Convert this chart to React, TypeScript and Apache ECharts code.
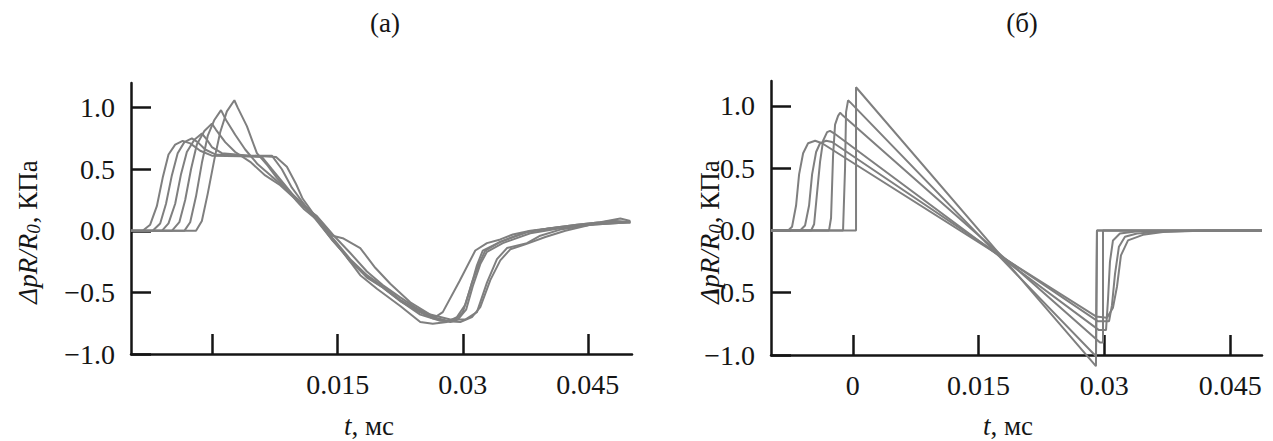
import React, { useEffect, useRef } from 'react';
import * as echarts from 'echarts';

type Pt = [number, number];

// ---------- panel (а): measured pulses ----------
const panelA1: Pt[] = [[-0.0098,0],[-0.0084,0],[-0.0075,0.05],[-0.0067,0.2],[-0.006,0.43],[-0.0053,0.62],[-0.0045,0.7],[-0.0036,0.73],[-0.0027,0.71],[-0.0015,0.65],[-0.0001,0.61],[0.0033,0.605],[0.0059,0.6],[0.0071,0.5],[0.0088,0.36],[0.0105,0.22],[0.0125,0.12],[0.0144,-0.03],[0.0165,-0.18],[0.0185,-0.33],[0.0204,-0.44],[0.0225,-0.54],[0.0245,-0.63],[0.0267,-0.7],[0.0276,-0.66],[0.0296,-0.41],[0.0315,-0.16],[0.0329,-0.1],[0.0345,-0.07],[0.036,-0.03],[0.0381,0],[0.0405,0.02],[0.0437,0.05],[0.0465,0.07],[0.0483,0.08],[0.0501,0.07]];
const panelA2: Pt[] = [[-0.0098,0],[-0.0072,0],[-0.0063,0.06],[-0.0056,0.22],[-0.0049,0.45],[-0.0042,0.63],[-0.0034,0.72],[-0.0025,0.75],[-0.0018,0.72],[-0.0009,0.66],[0.0003,0.62],[0.0039,0.61],[0.0071,0.61],[0.0083,0.5],[0.0095,0.35],[0.0107,0.24],[0.0125,0.08],[0.0144,-0.08],[0.0156,-0.17],[0.0177,-0.36],[0.0197,-0.47],[0.0225,-0.61],[0.0249,-0.74],[0.0264,-0.755],[0.0281,-0.74],[0.0293,-0.7],[0.0303,-0.6],[0.0311,-0.42],[0.032,-0.26],[0.0327,-0.16],[0.0345,-0.09],[0.036,-0.05],[0.0377,-0.01],[0.0405,0.02],[0.0437,0.05],[0.0465,0.07],[0.0489,0.1],[0.0501,0.08]];
const panelA3: Pt[] = [[-0.0098,0],[-0.0061,0],[-0.0053,0.06],[-0.0045,0.22],[-0.0038,0.46],[-0.0031,0.64],[-0.0022,0.74],[-0.0013,0.79],[-0.0007,0.74],[-0.0001,0.68],[0.0011,0.63],[0.0045,0.61],[0.0076,0.6],[0.0089,0.52],[0.01,0.38],[0.0108,0.26],[0.0125,0.1],[0.0144,-0.06],[0.0165,-0.23],[0.0185,-0.36],[0.0204,-0.45],[0.0225,-0.56],[0.0245,-0.64],[0.0264,-0.7],[0.0281,-0.73],[0.0291,-0.72],[0.03,-0.66],[0.0309,-0.47],[0.0317,-0.28],[0.0324,-0.16],[0.0345,-0.09],[0.0377,-0.01],[0.0405,0.02],[0.0437,0.04],[0.0465,0.06],[0.0501,0.07]];
const panelA4: Pt[] = [[-0.0098,0],[-0.0049,0],[-0.004,0.07],[-0.0033,0.25],[-0.0026,0.5],[-0.0019,0.7],[-0.001,0.81],[-0.0001,0.87],[0.0004,0.82],[0.0015,0.72],[0.0027,0.64],[0.0045,0.56],[0.0063,0.45],[0.0081,0.37],[0.0102,0.24],[0.0125,0.1],[0.0144,-0.07],[0.0165,-0.25],[0.0185,-0.37],[0.0204,-0.46],[0.0225,-0.57],[0.0245,-0.65],[0.0264,-0.71],[0.0285,-0.74],[0.0294,-0.72],[0.0304,-0.64],[0.0312,-0.45],[0.0321,-0.27],[0.0329,-0.17],[0.0348,-0.1],[0.0381,-0.02],[0.0417,0.02],[0.0453,0.05],[0.0501,0.07]];
const panelA5: Pt[] = [[-0.0098,0],[-0.0034,0],[-0.0027,0.07],[-0.002,0.28],[-0.0013,0.55],[-0.0006,0.77],[0.0002,0.9],[0.001,0.98],[0.0016,0.9],[0.0027,0.78],[0.0039,0.66],[0.0054,0.54],[0.0071,0.44],[0.009,0.33],[0.0105,0.24],[0.0125,0.11],[0.0144,-0.04],[0.0156,-0.06],[0.0177,-0.14],[0.0195,-0.3],[0.0213,-0.43],[0.0237,-0.58],[0.0261,-0.68],[0.0285,-0.72],[0.0303,-0.72],[0.0317,-0.66],[0.0329,-0.42],[0.0341,-0.23],[0.0353,-0.14],[0.0377,-0.1],[0.0393,-0.04],[0.0417,0.01],[0.0453,0.05],[0.0501,0.07]];
const panelA6: Pt[] = [[-0.0098,0],[-0.002,0],[-0.0013,0.08],[-0.0006,0.3],[0.0002,0.58],[0.0009,0.8],[0.0017,0.97],[0.0026,1.06],[0.003,1.0],[0.0041,0.85],[0.0053,0.63],[0.0066,0.53],[0.0077,0.43],[0.009,0.33],[0.0101,0.24],[0.0109,0.18],[0.0125,0.09],[0.0144,-0.08],[0.0165,-0.24],[0.0185,-0.38],[0.0204,-0.46],[0.0225,-0.57],[0.0249,-0.68],[0.0273,-0.73],[0.0297,-0.74],[0.0311,-0.7],[0.0321,-0.62],[0.0333,-0.4],[0.0345,-0.24],[0.0357,-0.15],[0.0375,-0.11],[0.0399,-0.05],[0.0423,0],[0.0453,0.05],[0.0477,0.08],[0.0501,0.07]];

// ---------- panel (б): computed pulses ----------
const panelB1: Pt[] = [[-0.00975,0],[-0.00771,0],[-0.00724,0.03],[-0.00676,0.2],[-0.0064,0.45],[-0.00592,0.62],[-0.00533,0.7],[-0.00449,0.72],[-0.00366,0.7],[0.029,-0.69],[0.03032,-0.7],[0.03103,-0.62],[0.03151,-0.45],[0.03198,-0.2],[0.03282,-0.08],[0.0346,-0.035],[0.03699,-0.012],[0.0414,-0.003],[0.04879,0]];
const panelB2: Pt[] = [[-0.00975,0],[-0.00628,0],[-0.00569,0.04],[-0.00521,0.2],[-0.00485,0.45],[-0.00437,0.63],[-0.0039,0.7],[-0.00318,0.72],[-0.00247,0.71],[0.02924,-0.73],[0.03056,-0.73],[0.03091,-0.6],[0.03127,-0.35],[0.03174,-0.13],[0.03246,-0.05],[0.03389,-0.025],[0.03699,-0.008],[0.04223,0],[0.04879,0]];
const panelB3: Pt[] = [[-0.00975,0],[-0.00497,0],[-0.00461,0.05],[-0.00426,0.3],[-0.0039,0.55],[-0.00354,0.72],[-0.00306,0.79],[-0.00271,0.8],[-0.00223,0.78],[0.02936,-0.8],[0.0302,-0.8],[0.03044,-0.55],[0.03067,-0.25],[0.03103,-0.08],[0.03186,-0.025],[0.03425,-0.005],[0.04879,0]];
const panelB4: Pt[] = [[-0.00975,0],[-0.00283,0],[-0.00259,0.1],[-0.00235,0.6],[-0.00211,0.85],[-0.00175,0.92],[-0.00151,0.945],[-0.00128,0.93],[0.02948,-0.9],[0.02984,-0.9],[0.02984,0],[0.04879,0]];
const panelB5: Pt[] = [[-0.00975,0],[-0.00116,0],[-0.00092,0.5],[-0.0008,0.95],[-0.00056,1.045],[-0.00032,1.03],[0.029,-1.01],[0.02912,0],[0.04879,0]];
const panelB6: Pt[] = [[-0.00975,0],[0.00039,0],[0.00039,1.15],[0.029,-1.09],[0.02912,0],[0.04879,0]];

const panelACurves = [panelA1, panelA2, panelA3, panelA4, panelA5, panelA6];
const panelBCurves = [panelB1, panelB2, panelB3, panelB4, panelB5, panelB6];

const yTicks = [-1, -0.5, 0, 0.5, 1];
const xTicks = [0, 0.015, 0.03, 0.045];
const xLabelsA = [0.015, 0.03, 0.045];
const xLabelsB = [0, 0.015, 0.03, 0.045];
const panelTitles = ['(а)', '(б)'];

const FONT = '"Liberation Serif", "Times New Roman", serif';
const INK = '#151515';
const CURVE = '#7f7f7f';

function makeX(grid: number, min: number, max: number, labels: number[]) {
  return {
    type: 'value', gridIndex: grid, min, max,
    axisLine: { onZero: false, lineStyle: { color: INK, width: 2.5 } },
    axisTick: { inside: true, length: 20, customValues: xTicks, lineStyle: { color: INK, width: 2.5 } },
    axisLabel: { customValues: labels, formatter: (v: number) => String(v), fontFamily: FONT, fontSize: 28, color: INK, margin: 16 },
    splitLine: { show: false },
  };
}
function makeY(grid: number) {
  return {
    type: 'value', gridIndex: grid, min: -1, max: 1.2,
    axisLine: { onZero: false, lineStyle: { color: INK, width: 2.5 } },
    axisTick: { inside: true, length: 20, customValues: yTicks, lineStyle: { color: INK, width: 2.5 } },
    axisLabel: { customValues: yTicks, formatter: (v: number) => (v < 0 ? '\u2212' : '') + Math.abs(v).toFixed(1), fontFamily: FONT, fontSize: 28, color: INK, margin: 16 },
    splitLine: { show: false },
  };
}

function yName(x: number) {
  return {
    type: 'text', x, y: 232, rotation: Math.PI / 2,
    style: {
      text: '{i|\u0394pR/R}{s|0}{n|, \u041a\u041f\u0430}',
      fill: INK, align: 'center', verticalAlign: 'middle',
      rich: {
        i: { fontFamily: FONT, fontSize: 27, fontStyle: 'italic', fill: INK, lineHeight: 30 },
        s: { fontFamily: FONT, fontSize: 19, fontStyle: 'italic', fill: INK, lineHeight: 30, padding: [10, 1, 0, 0] },
        n: { fontFamily: FONT, fontSize: 27, fill: INK, lineHeight: 30 },
      },
    },
  };
}
function xName(x: number) {
  return {
    type: 'text', x, y: 426,
    style: {
      text: '{i|t}{n|, \u043c\u0441}', fill: INK, align: 'center', verticalAlign: 'middle',
      rich: {
        i: { fontFamily: FONT, fontSize: 27, fontStyle: 'italic', fill: INK },
        n: { fontFamily: FONT, fontSize: 27, fill: INK },
      },
    },
  };
}

export default function App() {
  const ref = useRef<HTMLDivElement>(null);
  useEffect(() => {
    if (!ref.current) return;
    const chart = echarts.init(ref.current, undefined, { renderer: 'svg' });
    const series: any[] = [];
    panelACurves.forEach((c, i) => series.push({
      type: 'line', name: 'a' + i, xAxisIndex: 0, yAxisIndex: 0, data: c, showSymbol: false, symbol: 'none',
      lineStyle: { color: CURVE, width: 2 }, silent: true, clip: false,
    }));
    panelBCurves.forEach((c, i) => series.push({
      type: 'line', name: 'b' + i, xAxisIndex: 1, yAxisIndex: 1, data: c, showSymbol: false, symbol: 'none',
      lineStyle: { color: CURVE, width: 2 }, silent: true, clip: false,
    }));
    chart.setOption({
      animation: false,
      grid: [
        { left: 131, top: 83, width: 501, height: 271 },
        { left: 771, top: 81, width: 491, height: 274 },
      ],
      xAxis: [makeX(0, -0.0098, 0.0503, xLabelsA), makeX(1, -0.00975, 0.0488, xLabelsB)],
      yAxis: [makeY(0), makeY(1)],
      series,
      graphic: [
        { type: 'text', x: 385, y: 23, style: { text: panelTitles[0], font: '27px ' + FONT, fill: INK, align: 'center', verticalAlign: 'middle' } },
        { type: 'text', x: 1022, y: 23, style: { text: panelTitles[1], font: '27px ' + FONT, fill: INK, align: 'center', verticalAlign: 'middle' } },
        yName(28),
        yName(710),
        xName(369),
        xName(1008),
      ],
    });
    return () => chart.dispose();
  }, []);
  return <div ref={ref} style={{ position: 'fixed', left: 0, top: 0, width: 1273, height: 441, background: '#fff' }} />;
}
